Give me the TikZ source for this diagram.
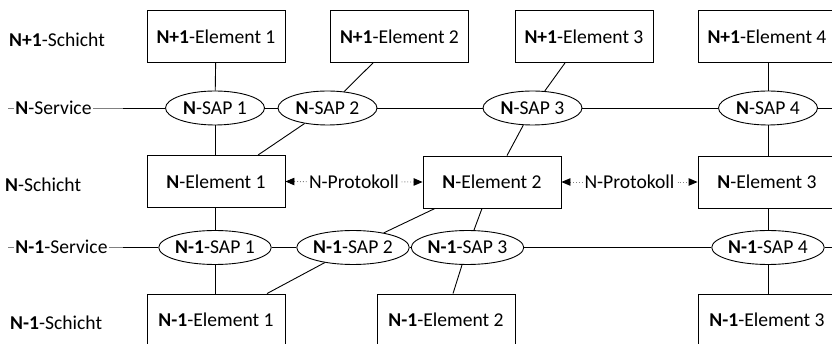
\documentclass[tikz,border=0pt]{standalone}
\usepackage{fontspec}
\setmainfont{Carlito}
\usetikzlibrary{arrows.meta,calc,shapes.geometric}

\begin{document}
\begin{tikzpicture}[x=1pt,y=-1pt,
  font=\fontsize{19.6}{23}\selectfont,
  elem/.style={draw, line width=0.9pt, minimum width=138pt, minimum height=52pt, inner sep=0pt},
  sap/.style={draw, ellipse, line width=0.9pt, minimum width=99pt, minimum height=34pt, inner sep=0pt},
  link/.style={line width=0.9pt},
  layer/.style={anchor=west, inner sep=0pt},
  service/.style={fill=white, inner sep=1pt},
  guide/.style={line width=0.6pt, gray},
  proto/.style={dotted, line width=0.9pt, gray,
    {Triangle[length=9pt,width=7.5pt,color=black]}-{Triangle[length=9pt,width=7.5pt,color=black]}},
  protolabel/.style={fill=white, inner sep=2pt, text=black}
]
\useasboundingbox (0,0) rectangle (832,344);
\clip (0,0) rectangle (832,344);

% layer names
\node[layer] (l1) at (9,40) {\textbf{N+1}-Schicht};
\node[layer] (l2) at (5,185) {\textbf{N}-Schicht};
\node[layer] (l3) at (10,323) {\textbf{N-1}-Schicht};

% N+1 layer
\node[elem] (a1) at (216,36.5) {\textbf{N+1}-Element 1};
\node[elem] (a2) at (399.5,36.5) {\textbf{N+1}-Element 2};
\node[elem] (a3) at (584,36.5) {\textbf{N+1}-Element 3};
\node[elem] (a4) at (767,36.5) {\textbf{N+1}-Element 4};

% N service access points
\node[sap] (s1) at (215,108) {\textbf{N}-SAP 1};
\node[sap] (s2) at (327.5,108) {\textbf{N}-SAP 2};
\node[sap] (s3) at (532.5,108) {\textbf{N}-SAP 3};
\node[sap] (s4) at (768,108) {\textbf{N}-SAP 4};

% N layer
\node[elem] (b1) at (216,181.5) {\textbf{N}-Element 1};
\node[elem] (b2) at (492,182) {\textbf{N}-Element 2};
\node[elem] (b3) at (767,182) {\textbf{N}-Element 3};

% N-1 service access points
\node[sap] (t1) at (215,247.5) {\textbf{N-1}-SAP 1};
\node[sap] (t2) at (353,247.5) {\textbf{N-1}-SAP 2};
\node[sap] (t3) at (467.5,247.5) {\textbf{N-1}-SAP 3};
\node[sap] (t4) at (768,247.5) {\textbf{N-1}-SAP 4};

% N-1 layer
\node[elem] (c1) at (216,320) {\textbf{N-1}-Element 1};
\node[elem] (c2) at (446,320) {\textbf{N-1}-Element 2};
\node[elem] (c3) at (767,320) {\textbf{N-1}-Element 3};

% N service line
\coordinate (ns0) at (8,108);
\coordinate (ns1) at (123,108);
\coordinate (ns2) at (840,108);
\draw[guide] (ns0) -- (ns1);
\node[service] (nsl) at (53.5,108) {\textbf{N}-Service};
\draw[link] (ns1) -- (s1) (s1) -- (s2) (s2) -- (s3) (s3) -- (s4) (s4) -- (ns2);

% N-1 service line
\coordinate (ms0) at (8,247.5);
\coordinate (ms1) at (123,247.5);
\coordinate (ms2) at (840,247.5);
\draw[guide] (ms0) -- (ms1);
\node[service] (msl) at (61.5,247) {\textbf{N-1}-Service};
\draw[link] (ms1) -- (t1) (t1) -- (t2) (t2) -- (t3) (t3) -- (t4) (t4) -- (ms2);

% N+1 elements to N-SAPs
\draw[link] (a1) -- (s1);
\draw[link] ($(a2.south)+(-26.5,0)$) -- (s2);
\draw[link] ($(a3.south)+(-19,0)$) -- (s3);
\draw[link] (a4.south -| s4) -- (s4);

% N-SAPs to N elements
\draw[link] (s1) -- (b1.north -| s1);
\draw[link] (s2) -- ($(b1.north)+(42,0)$);
\draw[link] (s3) -- ($(b2.north)+(15,0)$);
\draw[link] (s4) -- (b3.north -| s4);

% N elements to N-1-SAPs
\draw[link] (b1.south -| t1) -- (t1);
\draw[link] ($(b2.south)+(-57,0)$) -- (t2);
\draw[link] ($(b2.south)+(-10,0)$) -- (t3);
\draw[link] (b3.south -| t4) -- (t4);

% N-1-SAPs to N-1 elements
\draw[link] (t1) -- (c1.north -| t1);
\draw[link] (t2) -- ($(c1.north)+(51,0)$);
\draw[link] (t3) -- ($(c2.north)+(7,0)$);
\draw[link] (t4) -- (c3.north -| t4);

% peer protocols
\draw[proto] (b1.east) -- node[protolabel] (p1) {N-Protokoll} (b2.west);
\draw[proto] (b2.east) -- node[protolabel] (p2) {N-Protokoll} (b3.west);
\end{tikzpicture}
\end{document}
